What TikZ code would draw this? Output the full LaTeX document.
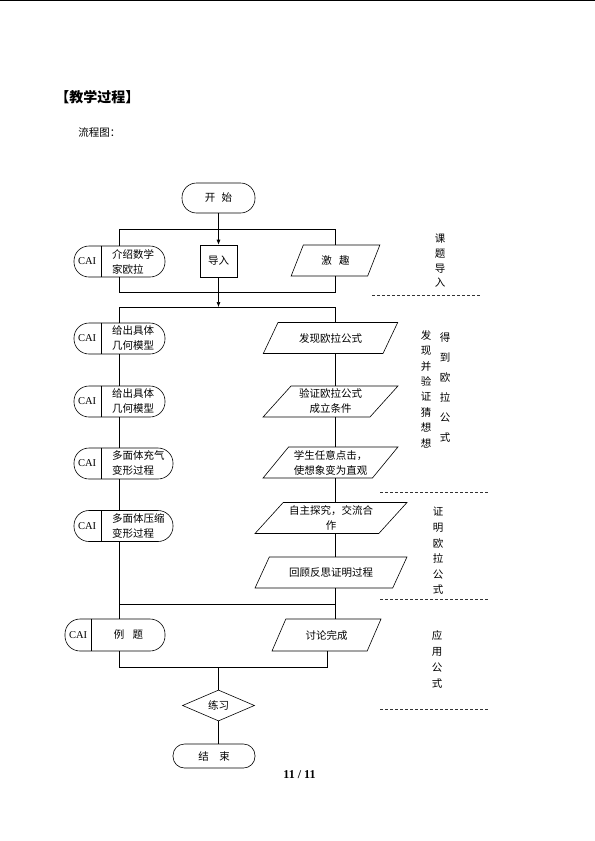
\documentclass[tikz,border=0pt]{standalone}
\usepackage{fontspec}
\setmainfont{Liberation Serif}
\newfontfamily\cjk{Noto Sans CJK SC}
\usepackage{tikz}
\tikzstyle{term} = [rectangle, draw, fill=white,
    rounded corners=14.5bp, minimum height=30bp, inner sep=0pt]
\tikzstyle{cai} = [rectangle, draw, fill=white,
    rounded corners=15bp, minimum height=31bp, inner sep=0pt]
\tikzstyle{proc} = [rectangle, draw, fill=white,
    minimum width=37bp, minimum height=32bp, inner sep=0pt]
\tikzstyle{io} = [trapezium, draw, fill=white, trapezium stretches=true,
    trapezium left angle=48, trapezium right angle=132,
    minimum height=31bp, inner sep=0pt, align=center]
\tikzstyle{decide} = [diamond, draw, fill=white,
    minimum width=72bp, minimum height=31bp, inner sep=0pt]
\tikzstyle{latin} = [font=\rmfamily\fontsize{10.5bp}{12bp}\selectfont]
\tikzstyle{divline} = [dash pattern=on 3bp off 2bp, black!80]
\usetikzlibrary{calc}
\usetikzlibrary{arrows.meta}
\usetikzlibrary{positioning}
\usetikzlibrary{shapes.geometric}

\begin{document}
\begin{tikzpicture}[x=1bp, y=-1bp, line width=0.6bp,
    font=\cjk\fontsize{10.5bp}{15bp}\selectfont,
    >={Latex[length=5bp,width=4bp]}]
    \useasboundingbox (0,0) rectangle (595,841);
    \draw[line width=1.2bp] (0,0.6) -- (595,0.6);

    \node[anchor=west, inner sep=0pt, font=\cjk\bfseries\fontsize{14bp}{16bp}\selectfont] (title) at (55,97) {【教学过程】};
    \node[anchor=west, inner sep=0pt] (chart) at (78,133) {流程图：};

    % first part
    \node[term, minimum width=73bp] (start) at (218.5,198) {开\hspace{0.6em}始};

    \node[cai, minimum width=91bp] (cai0) at (119.5,261.5) {};
    \draw ([xshift=28bp]cai0.north west) -- ([xshift=28bp]cai0.south west);
    \node[latin] (cai0l) at ([xshift=13.5bp]cai0.west) {CAI};
    \node[anchor=west, align=left, inner sep=0pt] (cai0t) at ([xshift=38bp]cai0.west) {介绍数学\\家欧拉};

    \node[proc] (intro) at (218.5,261) {导入};
    \node[io, minimum width=89bp, trapezium left angle=61, trapezium right angle=119] (spark) at (335.5,260.5) {激\hspace{0.7em}趣};

    \coordinate (t1) at (119,229);
    \coordinate (t2) at (335,229);
    \coordinate (b1) at (119,292);
    \coordinate (b2) at (335,292);
    \coordinate (l0) at (119,307);
    \coordinate (r0) at (335,307);

    \draw[->] (start) -- (intro);
    \draw (cai0.north -| t1) -- (t1) -- (t2) -- (t2 |- spark.north);
    \draw (cai0.south -| b1) -- (b1) -- (b2) -- (b2 |- spark.south);
    \draw[->] (intro) -- (intro |- l0);
    \draw (l0) -- (r0);

    % left column
    \node[cai, minimum width=91bp] (m1) at (119.5,338.5) {};
    \draw ([xshift=28bp]m1.north west) -- ([xshift=28bp]m1.south west);
    \node[latin] (m1l) at ([xshift=13.5bp]m1.west) {CAI};
    \node[anchor=west, align=left, inner sep=0pt] (m1t) at ([xshift=38bp]m1.west) {给出具体\\几何模型};

    \node[cai, minimum width=91bp] (m2) at (119.5,401.5) {};
    \draw ([xshift=28bp]m2.north west) -- ([xshift=28bp]m2.south west);
    \node[latin] (m2l) at ([xshift=13.5bp]m2.west) {CAI};
    \node[anchor=west, align=left, inner sep=0pt] (m2t) at ([xshift=38bp]m2.west) {给出具体\\几何模型};

    \node[cai, minimum width=99bp] (m3) at (123.5,463.5) {};
    \draw ([xshift=28bp]m3.north west) -- ([xshift=28bp]m3.south west);
    \node[latin] (m3l) at ([xshift=13.5bp]m3.west) {CAI};
    \node[anchor=west, align=left, inner sep=0pt] (m3t) at ([xshift=38bp]m3.west) {多面体充气\\变形过程};

    \node[cai, minimum width=99bp] (m4) at (123.5,526) {};
    \draw ([xshift=28bp]m4.north west) -- ([xshift=28bp]m4.south west);
    \node[latin] (m4l) at ([xshift=13.5bp]m4.west) {CAI};
    \node[anchor=west, align=left, inner sep=0pt] (m4t) at ([xshift=38bp]m4.west) {多面体压缩\\变形过程};

    % right column
    \node[io, minimum width=135bp] (p1) at (330.5,338) {发现欧拉公式};
    \node[io, minimum width=135bp] (p2) at (330.5,401.5) {验证欧拉公式\\成立条件};
    \node[io, minimum width=135bp] (p3) at (330.5,462.5) {学生任意点击，\\使想象变为直观};
    \node[io, minimum width=152bp, trapezium left angle=45, trapezium right angle=135] (p4) at (331,518) {自主探究，交流合\\作};
    \node[io, minimum width=152bp, trapezium left angle=45, trapezium right angle=135] (p5) at (331,572.5) {回顾反思证明过程};

    \coordinate (l1) at (119,604);
    \coordinate (r1) at (335,604);

    \draw (l0) -- (l0 |- m1.north);
    \draw (m1.south -| l0) -- (m2.north -| l0);
    \draw (m2.south -| l0) -- (m3.north -| l0);
    \draw (m3.south -| l0) -- (m4.north -| l0);
    \draw (m4.south -| l0) -- (l1);

    \draw (r0) -- (r0 |- p1.north);
    \draw (p1.south -| r0) -- (p2.north -| r0);
    \draw (p2.south -| r0) -- (p3.north -| r0);
    \draw (p3.south -| r0) -- (p4.north -| r0);
    \draw (p4.south -| r0) -- (p5.north -| r0);
    \draw (p5.south -| r0) -- (r1);
    \draw (l1) -- (r1);

    % last part
    \node[cai, minimum width=100bp, minimum height=32bp] (ex) at (115,635) {};
    \draw ([xshift=27bp]ex.north west) -- ([xshift=27bp]ex.south west);
    \node[latin] (exl) at ([xshift=13.5bp]ex.west) {CAI};
    \node (ext) at ([xshift=13.5bp]ex.center) {例\hspace{0.8em}题};

    \node[io, minimum width=109bp, minimum height=32bp, trapezium left angle=54, trapezium right angle=126] (disc) at (326.5,635) {讨论完成};

    \draw (l1) -- (l1 |- ex.north);
    \draw (r1) -- (r1 |- disc.north);

    \coordinate (j1) at (119,667);
    \coordinate (j2) at (327,667);
    \coordinate (j0) at (218.5,667);
    \draw (ex.south -| j1) -- (j1) -- (j2) -- (j2 |- disc.south);

    \node[decide] (drill) at (218.5,705.5) {练习};
    \node[term, minimum width=82bp, minimum height=24bp, rounded corners=11.5bp] (stop) at (214,756) {结\hspace{1em}束};
    \draw (j0) -- (drill.north);
    \draw (drill.south) -- (drill.south |- stop.north);

    % side labels
    \node[align=center, font=\cjk\fontsize{10.5bp}{14.7bp}\selectfont] (lab1) at (440,261) {课\\题\\导\\入};
    \node[align=center, font=\cjk\fontsize{10.5bp}{15.4bp}\selectfont] (lab2) at (426,389) {发\\现\\并\\验\\证\\猜\\想\\想};
    \node[align=center, font=\cjk\fontsize{10.5bp}{20bp}\selectfont] (lab3) at (445,388) {得\\到\\欧\\拉\\公\\式};
    \node[align=center, font=\cjk\fontsize{10.5bp}{15.6bp}\selectfont] (lab4) at (438,551) {证\\明\\欧\\拉\\公\\式};
    \node[align=center, font=\cjk\fontsize{10.5bp}{16bp}\selectfont] (lab5) at (437,659) {应\\用\\公\\式};

    \draw[divline] (372,295) -- (480,295);
    \draw[divline] (380,492) -- (490,492);
    \draw[divline] (380,599) -- (490,599);
    \draw[divline] (380,709) -- (490,709);

    \node[font=\rmfamily\bfseries\fontsize{12bp}{14bp}\selectfont] (pagenum) at (299.5,775) {11 / 11};
\end{tikzpicture}
\end{document}
